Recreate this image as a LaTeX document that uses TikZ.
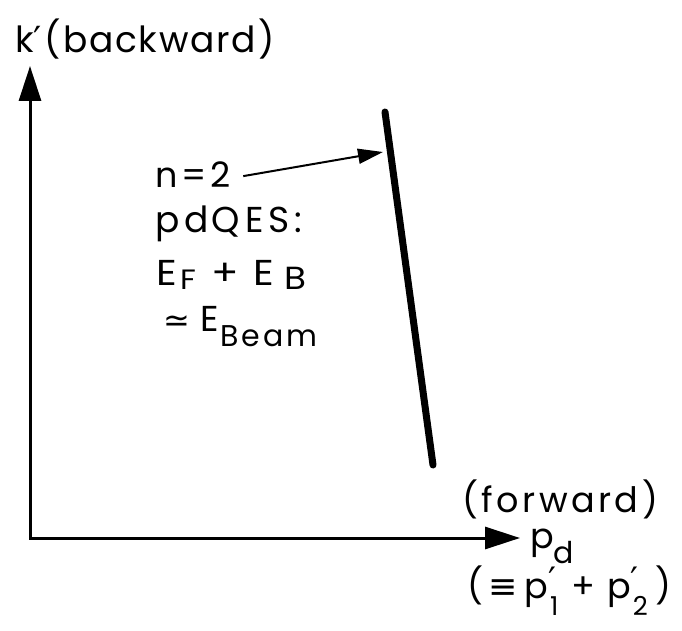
\documentclass[tikz,border=0pt]{standalone}
\usepackage{fontspec}
\setmainfont{Poppins}
\newfontfamily\symfont{DejaVu Sans}
\usetikzlibrary{arrows.meta}
\newcommand{\mysub}[3]{\raisebox{#1}{\fontsize{#2}{#2}\selectfont #3}}
\newcommand{\fs}[2]{\fontsize{#1}{#1}\selectfont\addfontfeature{LetterSpace=#2}}
\newcommand{\prm}{\makebox[0pt][l]{\raisebox{6pt}{\symfont ′}}}
\newcommand{\hs}[1]{\hspace{#1pt}}
\begin{document}
\begin{tikzpicture}[x=1pt,y=-1pt,
  axis/.style={line width=3pt, line join=miter, {Triangle[length=35pt,width=22pt]}-{Triangle[length=35pt,width=22pt]}},
  pointer/.style={line width=2pt, -{Triangle[length=25pt,width=15pt]}},
  curve/.style={line width=7pt, line cap=round},
  lbl/.style={inner sep=0pt, anchor=base west}]
\useasboundingbox (0,0) rectangle (682,631);
\coordinate (O) at (30,538);
\coordinate (ytip) at (30,66);
\coordinate (xtip) at (520,538);
\draw[axis] (ytip) -- (O) -- (xtip);
\coordinate (Ltop) at (385,112);
\coordinate (Lbot) at (433,465);
\draw[curve] (Ltop) -- (Lbot);
\node[lbl] (kl) at (15,53) {\fs{36}{5}k{\symfont ′}\hs{3}(backward)};
\node[lbl] (n2) at (155,187) {\fs{35}{12}n\hs{4}=\hs{4}2};
\node[lbl] (pdq) at (155,232) {\fs{36}{14}pd\hs{3}QES:};
\node[lbl] (ef) at (156,285) {\fs{36}{0}\scalebox{1.12}[1]{E\hs{3}\mysub{-4pt}{28pt}{F}\hs{14}+\hs{13}E\hs{9}\mysub{-4pt}{32pt}{B}}};
\node[lbl] (eb) at (163,331) {\fs{36}{0}{\symfont\fontsize{32}{32}\selectfont ≃}\hs{10}E\hs{2}\mysub{-15pt}{30pt}{\addfontfeature{LetterSpace=10}Beam}};
\node[lbl] (fw) at (462,512) {\fs{35}{10}(forward)};
\node[lbl] (pd) at (530,548) {\fs{35}{5}p\mysub{-15pt}{30pt}{d}};
\node[lbl] (eq) at (467,598) {\fs{35}{0}(\hs{5}{\symfont ≡}\hs{7}p\prm\hs{2}\mysub{-17pt}{26pt}{1}\hs{13}+\hs{12}p\prm\hs{2}\mysub{-17pt}{26pt}{2}\hs{8})};
\coordinate (hit) at (383,152);
\draw[pointer] ([xshift=12pt,yshift=-2pt]n2.east) -- (hit);
\end{tikzpicture}
\end{document}
